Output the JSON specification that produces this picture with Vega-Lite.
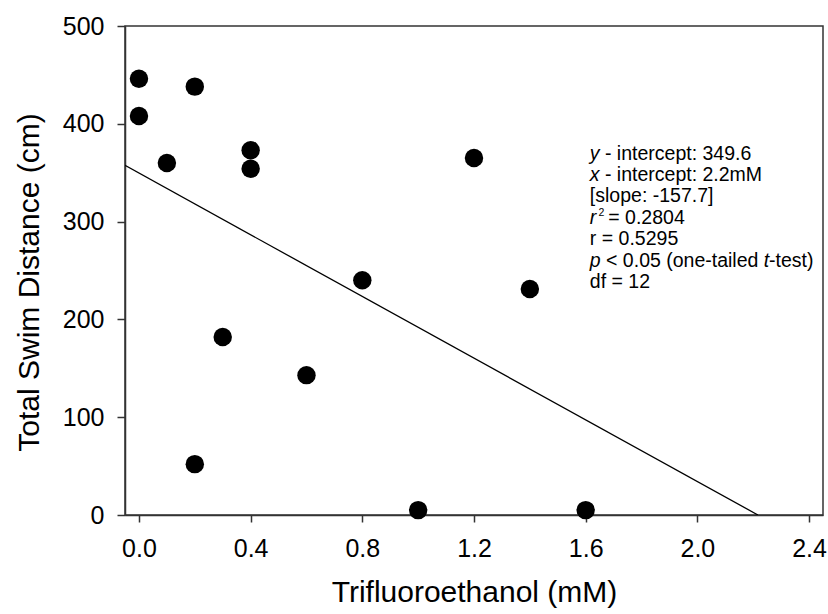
{
  "$schema": "https://vega.github.io/schema/vega-lite/v6.json",
  "width": 698,
  "height": 489,
  "autosize": {"type": "none"},
  "padding": {"left": 125, "top": 26, "right": 5, "bottom": 99},
  "background": "white",
  "config": {
    "font": "Liberation Sans",
    "view": {"stroke": "#333333", "strokeWidth": 1.5},
    "axis": {
      "domainColor": "#333333",
      "domainWidth": 1.5,
      "tickColor": "#333333",
      "tickWidth": 1.5,
      "grid": false,
      "labelColor": "black",
      "titleColor": "black",
      "labelFont": "Liberation Sans",
      "titleFont": "Liberation Sans",
      "titleFontWeight": "normal"
    }
  },
  "datasets": {
    "points": [
      {"tfe": 0.0, "dist": 446},
      {"tfe": 0.0, "dist": 408},
      {"tfe": 0.2, "dist": 438},
      {"tfe": 0.1, "dist": 360},
      {"tfe": 0.4, "dist": 373},
      {"tfe": 0.4, "dist": 354},
      {"tfe": 0.3, "dist": 182},
      {"tfe": 0.6, "dist": 143},
      {"tfe": 0.2, "dist": 52},
      {"tfe": 0.8, "dist": 240},
      {"tfe": 1.0, "dist": 5},
      {"tfe": 1.2, "dist": 365},
      {"tfe": 1.4, "dist": 231},
      {"tfe": 1.6, "dist": 5}
    ],
    "fit": [
      {"tfe": -0.05, "dist": 357.5},
      {"tfe": 2.217, "dist": 0}
    ],
    "normalText": [
      {"tx": 1.669, "ty": 369.4, "t": "- intercept: 349.6"},
      {"tx": 1.669, "ty": 347.5, "t": "- intercept: 2.2mM"},
      {"tx": 1.615, "ty": 325.7, "t": "[slope: -157.7]"},
      {"tx": 1.681, "ty": 303.8, "t": "= 0.2804"},
      {"tx": 1.615, "ty": 281.9, "t": "r = 0.5295"},
      {"tx": 1.673, "ty": 260.0, "t": "< 0.05 (one-tailed"},
      {"tx": 2.257, "ty": 260.0, "t": "-test)"},
      {"tx": 1.615, "ty": 238.1, "t": "df = 12"}
    ],
    "italicText": [
      {"tx": 1.615, "ty": 369.4, "t": "y"},
      {"tx": 1.615, "ty": 347.5, "t": "x"},
      {"tx": 1.615, "ty": 303.8, "t": "r"},
      {"tx": 1.615, "ty": 260.0, "t": "p"},
      {"tx": 2.238, "ty": 260.0, "t": "t"}
    ],
    "supText": [
      {"tx": 1.646, "ty": 308.5, "t": "2"}
    ]
  },
  "layer": [
    {
      "data": {"name": "fit"},
      "mark": {"type": "line", "color": "black", "strokeWidth": 1.3, "clip": true},
      "encoding": {
        "x": {
          "field": "tfe", "type": "quantitative",
          "scale": {"domain": [-0.05, 2.45], "nice": false, "zero": false},
          "axis": {
            "title": "Trifluoroethanol (mM)",
            "values": [0, 0.4, 0.8, 1.2, 1.6, 2.0, 2.4],
            "format": ".1f",
            "labelFontSize": 25,
            "titleFontSize": 30,
            "tickSize": 7,
            "labelPadding": 14,
            "titlePadding": 16
          }
        },
        "y": {
          "field": "dist", "type": "quantitative",
          "scale": {"domain": [0, 500], "nice": false},
          "axis": {
            "title": "Total Swim Distance (cm)",
            "values": [0, 100, 200, 300, 400, 500],
            "labelFontSize": 25,
            "titleFontSize": 30,
            "tickSize": 8,
            "labelPadding": 13,
            "titlePadding": 18,
            "titleY": 256
          }
        }
      }
    },
    {
      "data": {"name": "points"},
      "mark": {"type": "circle", "color": "black", "opacity": 1, "size": 340},
      "encoding": {
        "x": {"field": "tfe", "type": "quantitative"},
        "y": {"field": "dist", "type": "quantitative"}
      }
    },
    {
      "data": {"name": "normalText"},
      "mark": {"type": "text", "align": "left", "baseline": "middle", "fontSize": 19.5, "color": "black"},
      "encoding": {
        "x": {"field": "tx", "type": "quantitative"},
        "y": {"field": "ty", "type": "quantitative"},
        "text": {"field": "t"}
      }
    },
    {
      "data": {"name": "italicText"},
      "mark": {"type": "text", "align": "left", "baseline": "middle", "fontSize": 19.5, "fontStyle": "italic", "color": "black"},
      "encoding": {
        "x": {"field": "tx", "type": "quantitative"},
        "y": {"field": "ty", "type": "quantitative"},
        "text": {"field": "t"}
      }
    },
    {
      "data": {"name": "supText"},
      "mark": {"type": "text", "align": "left", "baseline": "middle", "fontSize": 10.5, "color": "black"},
      "encoding": {
        "x": {"field": "tx", "type": "quantitative"},
        "y": {"field": "ty", "type": "quantitative"},
        "text": {"field": "t"}
      }
    }
  ]
}
